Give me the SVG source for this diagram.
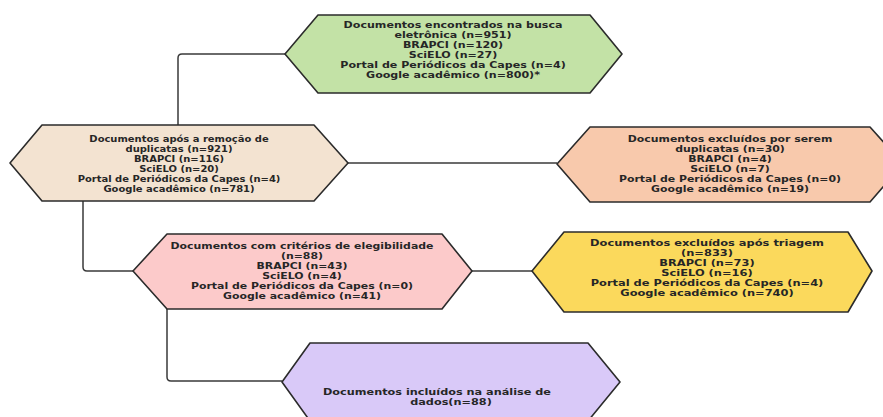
<svg xmlns="http://www.w3.org/2000/svg" width="883" height="417" viewBox="0 0 883 417">
<style>
.node{stroke:#2b2b2b;stroke-width:1.6;stroke-linejoin:round}
.conn{fill:none;stroke:#3a3a3a;stroke-width:1.5;stroke-linejoin:round}
text{font-family:"DejaVu Sans","Liberation Sans",sans-serif;font-weight:bold;fill:#262626;text-anchor:middle;font-size:8.6px}
</style>
<rect width="883" height="417" fill="#ffffff"/>
<g id="connectors">
<path class="conn" d="M285,54 H182 Q178,54 178,58 V125"/>
<path class="conn" d="M348,163 H557"/>
<path class="conn" d="M83,201 V267 Q83,271 87,271 H133"/>
<path class="conn" d="M472,271 H532"/>
<path class="conn" d="M167,309 V377 Q167,381 171,381 H282"/>
</g>
<g id="n1">
<polygon class="node" fill="#c3e2a6" points="285,54 318,15 590,15 622,54 590,93 318,93"/>
<text transform="translate(453,0) scale(1.29,1)"><tspan x="0" y="27.75">Documentos encontrados na busca</tspan><tspan x="0" y="37.75">eletrônica (n=951)</tspan><tspan x="0" y="47.75">BRAPCI (n=120)</tspan><tspan x="0" y="57.75">SciELO (n=27)</tspan><tspan x="0" y="67.75">Portal de Periódicos da Capes (n=4)</tspan><tspan x="0" y="77.75">Google acadêmico (n=800)*</tspan></text>
</g>
<g id="n2">
<polygon class="node" fill="#f3e3d1" points="10,163 42,125 314,125 348,163 314,201 42,201"/>
<text transform="translate(179,0) scale(1.16,1)"><tspan x="0" y="141.75">Documentos após a remoção de</tspan><tspan x="0" y="151.75">duplicatas (n=921)</tspan><tspan x="0" y="161.75">BRAPCI (n=116)</tspan><tspan x="0" y="171.75">SciELO (n=20)</tspan><tspan x="0" y="181.75">Portal de Periódicos da Capes (n=4)</tspan><tspan x="0" y="191.75">Google acadêmico (n=781)</tspan></text>
</g>
<g id="n3">
<polygon class="node" fill="#f8c9ac" points="557,164 590,127 870,127 903,164 870,202 590,202"/>
<text transform="translate(730,0) scale(1.27,1)"><tspan x="0" y="141.75">Documentos excluídos por serem</tspan><tspan x="0" y="151.75">duplicatas (n=30)</tspan><tspan x="0" y="161.75">BRAPCI (n=4)</tspan><tspan x="0" y="171.75">SciELO (n=7)</tspan><tspan x="0" y="181.75">Portal de Periódicos da Capes (n=0)</tspan><tspan x="0" y="191.75">Google acadêmico (n=19)</tspan></text>
</g>
<g id="n4">
<polygon class="node" fill="#fccaca" points="133,271 167,234 442,234 472,271 442,309 167,309"/>
<text transform="translate(302,0) scale(1.27,1)"><tspan x="0" y="248.75">Documentos com critérios de elegibilidade</tspan><tspan x="0" y="258.75">(n=88)</tspan><tspan x="0" y="268.75">BRAPCI (n=43)</tspan><tspan x="0" y="278.75">SciELO (n=4)</tspan><tspan x="0" y="288.75">Portal de Periódicos da Capes (n=0)</tspan><tspan x="0" y="298.75">Google acadêmico (n=41)</tspan></text>
</g>
<g id="n5">
<polygon class="node" fill="#fbd95c" points="532,271 564,232 848,232 872,271 848,312 564,312"/>
<text transform="translate(707,0) scale(1.33,1)"><tspan x="0" y="245.75">Documentos excluídos após triagem</tspan><tspan x="0" y="255.75">(n=833)</tspan><tspan x="0" y="265.75">BRAPCI (n=73)</tspan><tspan x="0" y="275.75">SciELO (n=16)</tspan><tspan x="0" y="285.75">Portal de Periódicos da Capes (n=4)</tspan><tspan x="0" y="295.75">Google acadêmico (n=740)</tspan></text>
</g>
<g id="n6">
<polygon class="node" fill="#d9c9f8" points="282,382 310,343 588,343 620,382 588,421 310,421"/>
<text transform="translate(451,0) scale(1.31,1)"><tspan x="-10.7" y="394.75">Documentos incluídos na análise de</tspan><tspan x="0" y="404.75">dados(n=88)</tspan></text>
</g>
</svg>
